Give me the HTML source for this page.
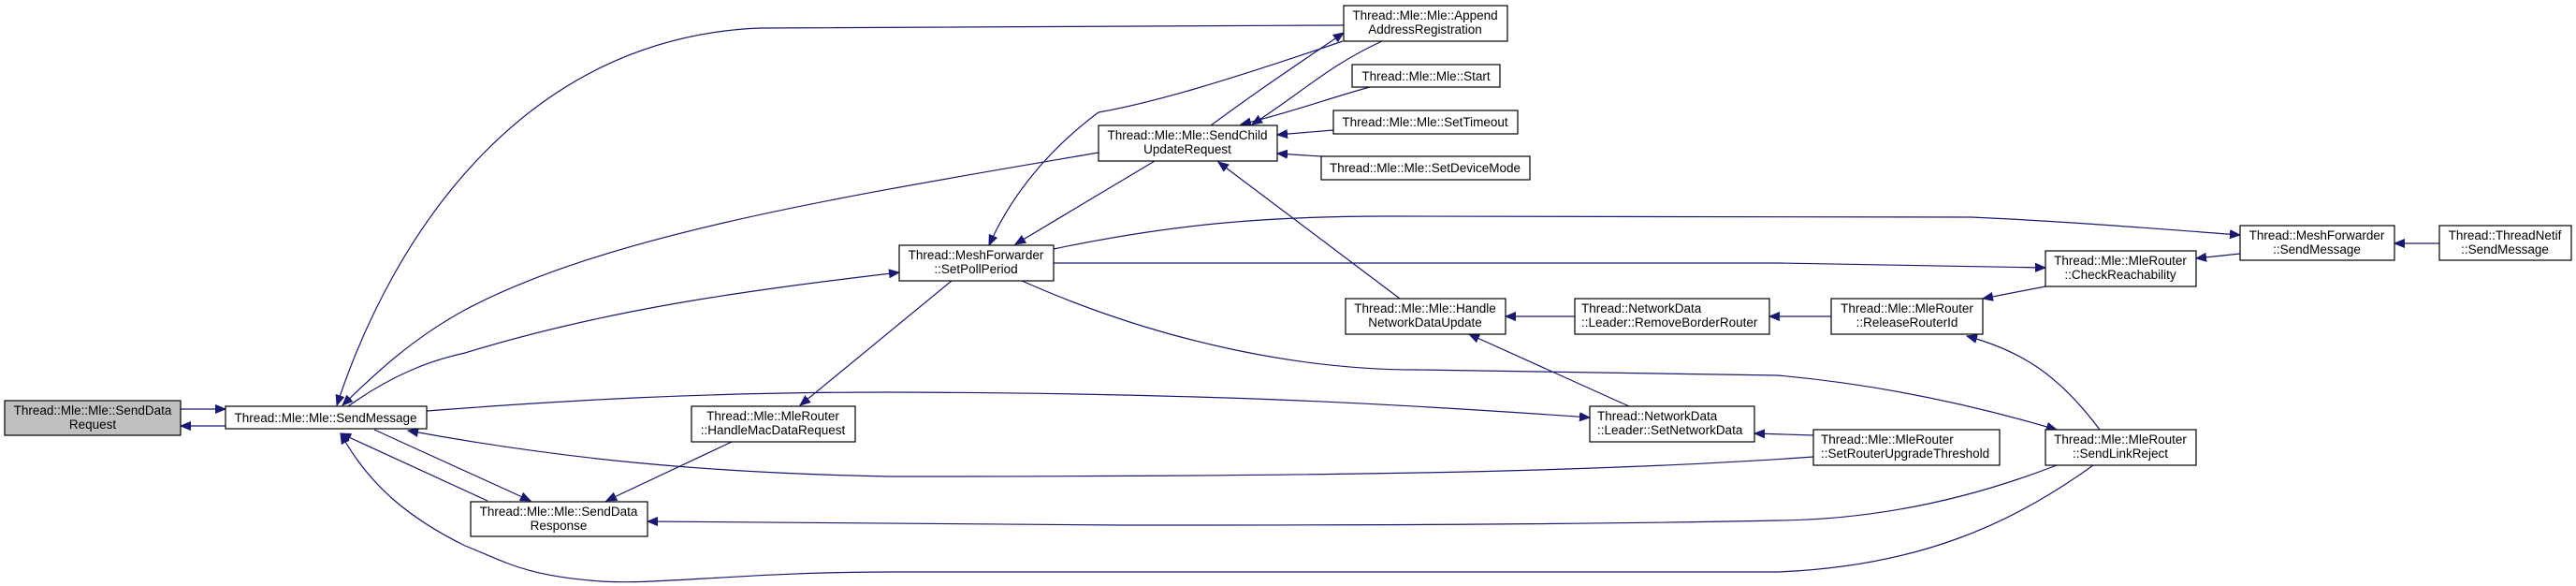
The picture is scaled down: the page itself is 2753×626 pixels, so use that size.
<!DOCTYPE html>
<html><head><meta charset="utf-8"><style>
html,body{margin:0;padding:0;background:#fff;}
svg{display:block;}
text{font-family:"Liberation Sans",sans-serif;font-size:13.5px;fill:#000;}
.b{fill:#fff;stroke:#000;stroke-width:1.2;}
.e{fill:none;stroke:#191970;stroke-width:1.2;}
</style></head><body>
<svg width="2753" height="626" viewBox="0 0 2753 626" xmlns="http://www.w3.org/2000/svg">
<defs><marker id="a" markerWidth="12" markerHeight="10" refX="11" refY="5" orient="auto" markerUnits="userSpaceOnUse"><path d="M0,0.5 L11,5 L0,9.5 Z" fill="#191970" stroke="#191970"/></marker></defs>
<g class="e" marker-end="url(#a)">
<path d="M241,455 L193,455"/>
<path d="M193,437 L241,437"/>
<path d="M1436,27 C1200,28 950,28 812,30 C560,40 420,250 360,433"/>
<path d="M1174,163 C900,210 650,250 497,331 C440,362 400,400 366,433"/>
<path d="M372,434 C420,400 460,385 497,377 C650,330 800,310 961,291"/>
<path d="M456,439 C600,428 750,419 950,419 C1300,420 1500,432 1699,446"/>
<path d="M1938,488 C1700,505 1400,509 950,509 C750,505 600,490 436,460"/>
<path d="M400,459 L567,535"/>
<path d="M521,535 L364,463"/>
<path d="M2237,497 C2150,560 2050,605 1900,611 L950,611 C800,611 700,625 642,621 C560,615 540,600 497,583 C440,555 395,520 364,463"/>
<path d="M2198,497 C2100,535 2000,555 1900,556 C1700,560 1500,561 1200,561 L692,557"/>
<path d="M782,472 L648,535"/>
<path d="M1017,300 L855,433"/>
<path d="M1435,44 C1300,90 1230,110 1174,120 C1120,160 1080,210 1057,262"/>
<path d="M1234,172 L1085,261"/>
<path d="M1294,134 C1340,100 1370,80 1436,35"/>
<path d="M1477,44 C1420,70 1390,100 1338,133"/>
<path d="M1464,93 C1420,105 1380,120 1326,133"/>
<path d="M1425,139 L1365,144"/>
<path d="M1412,167 L1365,164"/>
<path d="M1496,319 L1302,173"/>
<path d="M1126,266 C1250,240 1350,231 1483,231 L2107,232 C2200,236 2300,244 2394,251"/>
<path d="M1126,281 L1900,281 L2186,286"/>
<path d="M1092,300 C1250,370 1400,395 1514,395 L1900,401 C2000,410 2100,430 2198,459"/>
<path d="M1683,338 L1609,338"/>
<path d="M1957,338 L1891,338"/>
<path d="M2186,306 L2119,319"/>
<path d="M2244,459 C2200,400 2160,375 2102,359"/>
<path d="M2394,271 L2347,276"/>
<path d="M2607,260 L2559,260"/>
<path d="M1741,434 L1570,357"/>
<path d="M1938,465 L1875,463"/>
</g>
<g>
<rect class="b" x="5" y="428" width="188" height="37" style="fill:#bfbfbf"/>
<text x="99" y="443" text-anchor="middle">Thread::Mle::Mle::SendData</text><text x="99" y="458" text-anchor="middle">Request</text>
<rect class="b" x="241" y="434" width="215" height="24"/>
<text x="348" y="451" text-anchor="middle">Thread::Mle::Mle::SendMessage</text>
<rect class="b" x="739" y="434" width="175" height="38"/>
<text x="826" y="449" text-anchor="middle">Thread::Mle::MleRouter</text><text x="826" y="464" text-anchor="middle">::HandleMacDataRequest</text>
<rect class="b" x="503" y="536" width="189" height="37"/>
<text x="597" y="551" text-anchor="middle">Thread::Mle::Mle::SendData</text><text x="597" y="566" text-anchor="middle">Response</text>
<rect class="b" x="1436" y="6" width="175" height="38"/>
<text x="1523" y="21" text-anchor="middle">Thread::Mle::Mle::Append</text><text x="1523" y="36" text-anchor="middle">AddressRegistration</text>
<rect class="b" x="1445" y="69" width="158" height="24"/>
<text x="1524" y="86" text-anchor="middle">Thread::Mle::Mle::Start</text>
<rect class="b" x="1425" y="118" width="197" height="25"/>
<text x="1523" y="135" text-anchor="middle">Thread::Mle::Mle::SetTimeout</text>
<rect class="b" x="1174" y="134" width="191" height="38"/>
<text x="1269" y="149" text-anchor="middle">Thread::Mle::Mle::SendChild</text><text x="1269" y="164" text-anchor="middle">UpdateRequest</text>
<rect class="b" x="1412" y="167" width="223" height="25"/>
<text x="1523" y="184" text-anchor="middle">Thread::Mle::Mle::SetDeviceMode</text>
<rect class="b" x="961" y="262" width="165" height="38"/>
<text x="1043" y="277" text-anchor="middle">Thread::MeshForwarder</text><text x="1043" y="292" text-anchor="middle">::SetPollPeriod</text>
<rect class="b" x="1438" y="319" width="171" height="38"/>
<text x="1523" y="334" text-anchor="middle">Thread::Mle::Mle::Handle</text><text x="1523" y="349" text-anchor="middle">NetworkDataUpdate</text>
<rect class="b" x="1683" y="319" width="208" height="38"/>
<text x="1690" y="334">Thread::NetworkData</text><text x="1690" y="349">::Leader::RemoveBorderRouter</text>
<rect class="b" x="1699" y="434" width="176" height="38"/>
<text x="1707" y="449">Thread::NetworkData</text><text x="1707" y="464">::Leader::SetNetworkData</text>
<rect class="b" x="2394" y="241" width="165" height="37"/>
<text x="2476" y="256" text-anchor="middle">Thread::MeshForwarder</text><text x="2476" y="271" text-anchor="middle">::SendMessage</text>
<rect class="b" x="2607" y="241" width="141" height="37"/>
<text x="2677" y="256" text-anchor="middle">Thread::ThreadNetif</text><text x="2677" y="271" text-anchor="middle">::SendMessage</text>
<rect class="b" x="2186" y="268" width="161" height="38"/>
<text x="2266" y="283" text-anchor="middle">Thread::Mle::MleRouter</text><text x="2266" y="298" text-anchor="middle">::CheckReachability</text>
<rect class="b" x="1957" y="319" width="162" height="38"/>
<text x="2038" y="334" text-anchor="middle">Thread::Mle::MleRouter</text><text x="2038" y="349" text-anchor="middle">::ReleaseRouterId</text>
<rect class="b" x="1938" y="459" width="199" height="38"/>
<text x="1946" y="474">Thread::Mle::MleRouter</text><text x="1946" y="489">::SetRouterUpgradeThreshold</text>
<rect class="b" x="2186" y="459" width="161" height="38"/>
<text x="2266" y="474" text-anchor="middle">Thread::Mle::MleRouter</text><text x="2266" y="489" text-anchor="middle">::SendLinkReject</text>
</g>
</svg>
</body></html>
